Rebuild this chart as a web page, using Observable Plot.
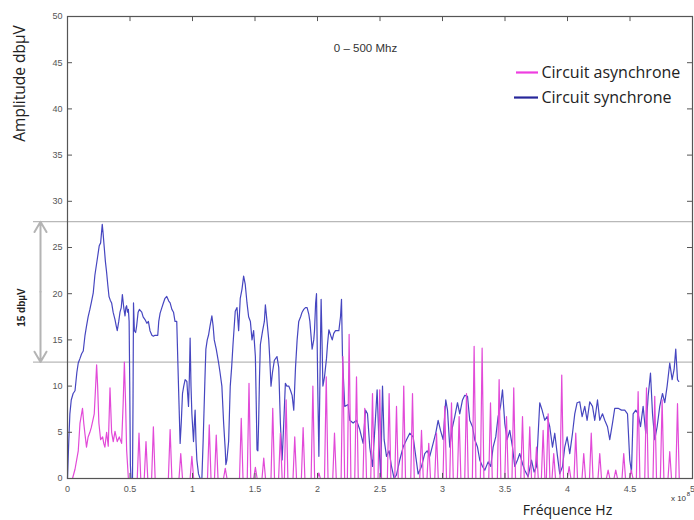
<!DOCTYPE html>
<html><head><meta charset="utf-8">
<script src="https://cdn.jsdelivr.net/npm/d3@7"></script>
<script src="https://cdn.jsdelivr.net/npm/@observablehq/plot@0.6"></script>
<style>body{margin:0;background:#fff;}</style>
</head><body><div id="chart"></div>
<script>
const title = "0 – 500 Mhz";
const yLabel = "Amplitude dbµV";
const xLabel = "Fréquence Hz";
const seriesNames = ["Circuit asynchrone", "Circuit synchrone"];
const seriesColors = ["#e24ad8", "#4646c0"];
const legendColors = ["#ee3ee0", "#26269a"];
const xTicks = [0, 0.5, 1, 1.5, 2, 2.5, 3, 3.5, 4, 4.5, 5];
const xTickLabels = ["0", "0.5", "1", "1.5", "2", "2.5", "3", "3.5", "4", "4.5", "5"];
const yTicks = [0, 5, 10, 15, 20, 25, 30, 35, 40, 45, 50];
const refLevels = [27.8, 12.6];
const refLabel = "15 dbµV";

// frequency (x 10^8 Hz), amplitude (dbµV)
const synchrone = [[0,0],[0.01,4],[0.019,7],[0.03,8.5],[0.045,9.2],[0.06,9.5],[0.075,11.5],[0.086,12.5],[0.1,13],[0.113,13.5],[0.126,13.8],[0.14,15.5],[0.152,16.5],[0.165,17.5],[0.179,18.3],[0.19,19],[0.206,20.1],[0.219,22],[0.23,23],[0.241,24],[0.254,25.2],[0.265,25.5],[0.278,27.5],[0.285,26.5],[0.294,25],[0.303,23.5],[0.313,22.3],[0.322,21],[0.332,19.7],[0.342,19.3],[0.353,19],[0.365,18],[0.38,17.2],[0.39,16.5],[0.398,16],[0.41,17],[0.42,18],[0.43,18.5],[0.439,19.9],[0.45,18.5],[0.46,17.6],[0.467,18.5],[0.473,18.7],[0.48,18],[0.487,18.3],[0.493,17],[0.498,10],[0.503,1.5],[0.508,0],[0.52,0],[0.524,8],[0.528,19],[0.535,16],[0.545,15.8],[0.553,16.5],[0.565,18],[0.575,18.3],[0.594,18],[0.605,17.5],[0.62,17.2],[0.635,16.8],[0.647,17],[0.66,16],[0.675,15.5],[0.687,15.4],[0.7,15.5],[0.722,15.5],[0.73,17],[0.741,17.9],[0.755,18.5],[0.767,19],[0.78,19.5],[0.794,19.7],[0.81,19.2],[0.821,19],[0.835,18.3],[0.848,18],[0.86,17],[0.874,17],[0.888,10],[0.901,3.8],[0.91,6],[0.92,9.2],[0.93,10],[0.941,10.7],[0.955,10.5],[0.962,9],[0.968,7.8],[0.975,11],[0.981,15.2],[0.988,10],[0.995,7],[1.008,4],[1.015,6],[1.021,7.4],[1.028,4],[1.035,2],[1.048,0.5],[1.061,0],[1.075,0],[1.085,4],[1.094,8.2],[1.1,11],[1.107,14],[1.118,15],[1.128,15.5],[1.14,16.5],[1.155,17.6],[1.165,16.5],[1.174,15],[1.19,14],[1.209,12.5],[1.22,11.5],[1.235,10],[1.249,6],[1.262,3.1],[1.267,1.5],[1.275,2],[1.289,4],[1.302,10],[1.313,12],[1.324,14.5],[1.342,18.1],[1.356,18.5],[1.369,16],[1.382,19.5],[1.396,20.5],[1.409,21.9],[1.415,21.5],[1.422,21],[1.436,19],[1.449,17.5],[1.463,17],[1.476,15],[1.489,16],[1.503,13.2],[1.51,8],[1.516,3.1],[1.523,3],[1.529,6],[1.536,11],[1.543,14.5],[1.561,16],[1.575,17],[1.583,18.8],[1.596,17],[1.61,15],[1.618,13],[1.628,10],[1.64,11.5],[1.655,12.8],[1.676,13.2],[1.69,12],[1.703,6],[1.717,2],[1.73,6],[1.743,10.3],[1.755,10],[1.77,10],[1.785,9.5],[1.797,9],[1.81,7.4],[1.824,12],[1.837,15],[1.85,17],[1.865,17.5],[1.877,18],[1.89,18.3],[1.904,18.5],[1.917,18.5],[1.93,17.8],[1.939,17],[1.957,14],[1.97,15],[1.976,16],[1.985,19],[1.992,20],[1.997,15],[2.003,9],[2.011,2.4],[2.019,10],[2.025,16],[2.029,19.4],[2.036,15],[2.043,10],[2.05,10.5],[2.056,11],[2.072,13],[2.08,14.5],[2.091,16.1],[2.105,15.5],[2.118,15],[2.13,15.7],[2.144,16],[2.158,16],[2.171,16],[2.184,17.5],[2.192,19.4],[2.2,13],[2.218,7.8],[2.245,8],[2.258,6.3],[2.285,6],[2.312,6.3],[2.338,5.3],[2.365,3.8],[2.384,7.4],[2.4,7],[2.418,3.4],[2.44,1.3],[2.458,5.2],[2.477,9.6],[2.493,3.4],[2.506,0.2],[2.52,10],[2.533,4.2],[2.552,2.4],[2.573,3],[2.592,1.3],[2.613,0],[2.632,0.4],[2.658,2],[2.685,3.4],[2.712,4.2],[2.738,4.9],[2.765,4.5],[2.786,2.4],[2.805,0.5],[2.832,1.3],[2.858,2.7],[2.877,3],[2.898,2.4],[2.925,3.8],[2.946,4.9],[2.965,6.3],[2.984,5.2],[3.005,4.2],[3.026,8.5],[3.04,7.4],[3.058,3.4],[3.08,5.6],[3.098,6.7],[3.12,8.2],[3.138,7],[3.16,8.5],[3.178,9],[3.2,8.9],[3.218,6.3],[3.24,5.6],[3.258,4.2],[3.28,3.4],[3.298,2],[3.32,1.3],[3.338,0.9],[3.365,1.8],[3.386,1.3],[3.405,3.4],[3.426,4.5],[3.445,6.7],[3.464,7.8],[3.48,9.6],[3.498,6],[3.517,4.2],[3.538,5.2],[3.56,3.4],[3.578,1.3],[3.6,2],[3.618,2.7],[3.64,1.6],[3.658,0.9],[3.685,0.2],[3.712,2],[3.733,0.7],[3.752,1.3],[3.778,8.2],[3.797,7.4],[3.818,6.3],[3.837,6.7],[3.858,5.6],[3.88,3.4],[3.898,4.9],[3.92,2.4],[3.938,0.5],[3.96,1.3],[3.978,3.4],[3.997,4.5],[4.018,2.7],[4.04,4.9],[4.058,7],[4.077,8.2],[4.098,8.3],[4.117,6.7],[4.138,7.8],[4.157,6.3],[4.178,8.3],[4.2,7.8],[4.218,6.3],[4.24,8.5],[4.258,6.3],[4.28,7],[4.298,6.3],[4.32,5.6],[4.338,4.2],[4.36,6],[4.378,7.6],[4.405,7.6],[4.432,7.4],[4.458,7.4],[4.48,7],[4.498,2],[4.512,0.7],[4.525,7],[4.546,7.4],[4.565,7],[4.584,5.6],[4.605,7.8],[4.626,4.9],[4.645,8.9],[4.664,11.4],[4.68,7],[4.698,4.2],[4.717,5.6],[4.738,7.8],[4.76,9.2],[4.778,8.2],[4.797,10],[4.818,12.5],[4.837,10.7],[4.853,11.8],[4.866,14],[4.88,10.7],[4.89,10.5]];

const asynchrone = [[0,0],[0.04,0],[0.06,1],[0.086,3],[0.1,6],[0.12,7.6],[0.13,6],[0.139,4.9],[0.152,3.4],[0.165,4.5],[0.179,5],[0.19,5.5],[0.198,6],[0.214,7],[0.225,10],[0.233,12.3],[0.241,10],[0.251,6],[0.265,4.2],[0.281,4.5],[0.29,3.8],[0.299,3.4],[0.313,5],[0.326,3.5],[0.34,9.8],[0.353,5],[0.366,4],[0.38,5.1],[0.398,4],[0.414,4.5],[0.433,3.8],[0.445,8],[0.455,12.6],[0.465,8],[0.473,3.1],[0.487,0],
[0.558,0],[0.572,4.9],[0.586,0],[0.614,0],[0.628,4],[0.642,0],[0.673,0],[0.687,5.6],[0.701,0],[0.807,0],[0.821,5.3],[0.835,0],[0.892,0],[0.906,2.7],[0.92,0],[0.981,0],[0.995,2.4],[1.009,0],[1.12,0],[1.134,5.8],[1.148,0],[1.176,0],[1.19,4.7],[1.204,0],[1.248,0],[1.262,1.1],[1.276,0],[1.376,0],[1.39,6.5],[1.404,0],[1.438,0],[1.452,10.3],[1.466,0],[1.489,0],[1.503,1.2],[1.517,0],[1.556,0],[1.57,2.2],[1.584,0],[1.628,0],[1.642,7.6],[1.656,0],[1.689,0],[1.703,4.9],[1.717,0],[1.735,0],[1.749,8.5],[1.763,0],[1.804,0],[1.818,4.5],[1.832,0],[1.871,0],[1.885,5.5],[1.899,0],[1.949,0],[1.963,10],[1.977,0],[1.999,0],[2.011,0.6],[2.023,0],[2.056,0],[2.07,11],[2.084,0],[2.122,0],[2.136,4.9],[2.15,0],[2.189,0],[2.203,13.2],[2.217,0],[2.239,0],[2.253,15.6],[2.267,0],[2.298,0],[2.312,11],[2.326,0],[2.364,0],[2.378,7.6],[2.392,0],[2.426,0],[2.44,9.2],[2.454,0],[2.484,0],[2.498,9.6],[2.512,0],[2.559,0],[2.573,9.2],[2.587,0],[2.618,0],[2.632,7.8],[2.646,0],[2.676,0],[2.69,10],[2.704,0],[2.746,0],[2.76,9.2],[2.774,0],[2.818,0],[2.832,5.2],[2.846,0],[2.876,0],[2.89,3.8],[2.904,0],[2.938,0],[2.952,4.9],[2.966,0],[3.004,0],[3.018,7.8],[3.032,0],[3.058,0],[3.072,8.2],[3.086,0],[3.119,0],[3.133,6.7],[3.147,0],[3.178,0],[3.192,9.2],[3.206,0],[3.239,0],[3.253,14.3],[3.267,0],[3.303,0],[3.317,14.1],[3.331,0],[3.37,0],[3.384,8.2],[3.398,0],[3.439,0],[3.453,10.7],[3.467,0],[3.498,0],[3.512,6.7],[3.526,0],[3.556,0],[3.57,9.8],[3.584,0],[3.626,0],[3.64,6.7],[3.654,0],[3.684,0],[3.698,5.6],[3.712,0],[3.738,0],[3.752,3.4],[3.766,0],[3.791,0],[3.805,5.2],[3.819,0],[3.831,0],[3.845,7],[3.859,0],[3.876,0],[3.89,2.7],[3.904,0],[3.94,0],[3.954,11.2],[3.968,0],[3.999,0],[4.013,1.3],[4.027,0],[4.052,0],[4.066,4.9],[4.08,0],[4.116,0],[4.13,2.7],[4.144,0],[4.176,0],[4.19,4.9],[4.204,0],[4.244,0],[4.258,2.7],[4.272,0],[4.311,0],[4.325,0.9],[4.339,0],[4.372,0],[4.386,0.9],[4.4,0],[4.436,0],[4.45,2.7],[4.464,0],[4.496,0],[4.51,0.9],[4.524,0],[4.551,0],[4.565,9.4],[4.579,0],[4.618,0],[4.632,9.8],[4.646,0],[4.684,0],[4.698,8.9],[4.712,0],[4.743,0],[4.757,8.5],[4.771,0],[4.804,0],[4.818,2.9],[4.832,0],[4.866,0],[4.88,8.1],[4.894,0]];

const syncData = synchrone.map(([f, a]) => ({f, a}));
const asyncData = asynchrone.map(([f, a]) => ({f, a}));

const labelFont = "'Open Sans', Lato, sans-serif";
const axisFont = "'Liberation Sans', Arial, sans-serif";
const legendRows = [
  {name: seriesNames[0], color: legendColors[0], x1: 3.592, x2: 3.768, y: 43.94},
  {name: seriesNames[1], color: legendColors[1], x1: 3.576, x2: 3.768, y: 41.23}
];
const place = (px, py) => ({frameAnchor: "top-left", dx: px - 67, dy: py - 16, textAnchor: "middle", lineAnchor: "middle"});

const chart = Plot.plot({
  width: 694, height: 520,
  marginLeft: 67, marginRight: 2, marginTop: 16, marginBottom: 42,
  style: {fontFamily: axisFont, fontSize: "9px", color: "#555", background: "#fff", overflow: "visible"},
  x: {domain: [0, 5], ticks: xTicks, tickFormat: d => xTickLabels[xTicks.indexOf(d)], tickSize: 0, tickPadding: 7, label: null},
  y: {domain: [0, 50], ticks: yTicks, tickSize: 0, tickPadding: 5, label: null},
  marks: [
    Plot.ruleY(refLevels, {x1: -0.272, x2: 5, stroke: "#b8b8b8", strokeWidth: 1.2}),
    Plot.line(syncData, {x: "f", y: "a", stroke: seriesColors[1], strokeWidth: 1.2}),
    Plot.line(asyncData, {x: "f", y: "a", stroke: seriesColors[0], strokeWidth: 1.2}),
    Plot.frame({stroke: "#555", strokeWidth: 1.2}),
    Plot.ruleY(yTicks, {x1: 0, x2: 0.04, stroke: "#555"}),
    Plot.ruleY(yTicks, {x1: 4.96, x2: 5, stroke: "#555"}),
    Plot.ruleX(xTicks, {y1: 0, y2: 0.55, stroke: "#555"}),
    Plot.ruleX(xTicks, {y1: 49.45, y2: 50, stroke: "#555"}),
    Plot.arrow([0], {x1: -0.216, x2: -0.216, y1: 20.2, y2: refLevels[0], stroke: "#b4b4b4", strokeWidth: 2, headLength: 9}),
    Plot.arrow([0], {x1: -0.216, x2: -0.216, y1: 20.2, y2: refLevels[1], stroke: "#b4b4b4", strokeWidth: 2, headLength: 9}),
    Plot.text([refLabel], {...place(21, 307), rotate: -90, fontSize: 10, fontWeight: "bold", fill: "#222", fontFamily: axisFont}),
    Plot.text([yLabel], {...place(20, 83), rotate: -90, fontSize: 15.5, fill: "#222", fontFamily: labelFont}),
    Plot.text([xLabel], {...place(567, 510), fontSize: 14, fill: "#222", fontFamily: labelFont}),
    Plot.text(["x 10"], {...place(678, 498), fontSize: 8, fill: "#333"}),
    Plot.text(["8"], {...place(688, 494), fontSize: 6, fill: "#333"}),
    Plot.text([title], {...place(365, 48), fontSize: 11.5, fill: "#333", fontFamily: axisFont}),
    Plot.ruleY(legendRows, {x1: "x1", x2: "x2", y: "y", stroke: "color", strokeWidth: 2.2}),
    Plot.text(legendRows, {x: "x2", y: "y", text: "name", dx: 3, textAnchor: "start", fontSize: 16, fill: "#222", fontFamily: labelFont})
  ]
});
document.getElementById("chart").appendChild(chart);
</script>
</body></html>
